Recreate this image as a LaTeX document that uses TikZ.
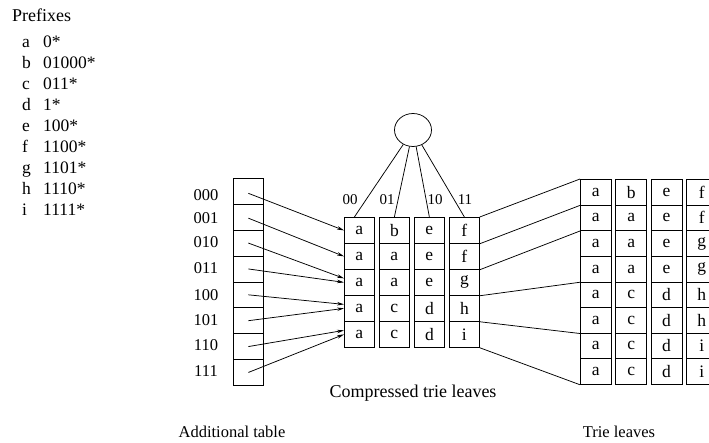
\documentclass[tikz,border=0pt]{standalone}
\usepackage{fontspec}
\setmainfont{Liberation Serif}
\usetikzlibrary{arrows.meta,shapes.geometric}
\begin{document}
\begin{tikzpicture}[x=1pt,y=-1pt,
  txt/.style={font=\fontsize{16.5}{18}\selectfont, inner sep=0pt},
  big/.style={font=\fontsize{18}{20}\selectfont, inner sep=0pt},
  plist/.style={font=\fontsize{17.5}{19}\selectfont, inner sep=0pt},
  small/.style={font=\fontsize{15}{16}\selectfont, inner sep=0pt},
  ccell/.style={draw, line width=0.75pt, minimum width=30pt, minimum height=26pt, inner sep=0pt, anchor=north west, font=\fontsize{17.5}{18}\selectfont},
  lcell/.style={draw, line width=0.75pt, minimum width=31pt, minimum height=25.625pt, inner sep=0pt, anchor=north west, font=\fontsize{17.5}{18}\selectfont},
  tcell/.style={draw, line width=0.75pt, minimum width=30pt, minimum height=25.875pt, inner sep=0pt, anchor=north west},
  link/.style={line width=0.75pt},
  arr/.style={line width=0.75pt, -{Stealth[length=7pt,width=3.5pt]}}]
\useasboundingbox (0,0) rectangle (709,442);

% Prefix list
\node[big, anchor=west] (ptitle) at (12,15) {Prefixes};
\foreach \l/\p [count=\i] in {a/0*, b/01000*, c/011*, d/1*, e/100*, f/1100*, g/1101*, h/1110*, i/1111*}{
  \node[plist, anchor=base west] (pl\i) at (22,{42+21*(\i-1)+5}) {\l};
  \node[plist, anchor=base west] (pp\i) at (43,{42+21*(\i-1)+5}) {\p};
}

% Additional table
\foreach \i in {1,...,8}{
  \node[tcell] (t\i) at (233,{178+25.875*(\i-1)}) {};
}
\foreach \lab/\yy [count=\i] in {000/195,001/218,010/242,011/268,100/295,101/320,110/345,111/371}{
  \node[txt] (rl\i) at (206,\yy) {\lab};
}

% Compressed trie leaves
\foreach \col/\letters in {1/{a,a,a,a,a},2/{b,a,a,c,c},3/{e,e,e,d,d},4/{f,f,g,h,i}}{
  \foreach \ch [count=\r] in \letters{
    \node[ccell] (c\col\r) at ({344+35*(\col-1)},{217+26*(\r-1)}) {\ch};
  }
}

% Trie leaves
\foreach \col/\letters in {1/{a,a,a,a,a,a,a,a},2/{b,a,a,a,c,c,c,c},3/{e,e,e,e,d,d,d,d},4/{f,f,g,g,h,h,i,i}}{
  \foreach \ch [count=\r] in \letters{
    \node[lcell] (l\col\r) at ({580+35.3*(\col-1)},{179+25.625*(\r-1)}) {\ch};
  }
}

% Root
\node[draw, ellipse, line width=0.75pt, minimum width=37pt, minimum height=33pt, inner sep=0pt] (root) at (413,130) {};
\coordinate (k1) at ([xshift=-5pt]c11.north);
\coordinate (k2) at (c21.north);
\coordinate (k3) at (c31.north);
\coordinate (k4) at (c41.north);
\foreach \k in {1,...,4}{ \draw[link] (root) -- (k\k); }
\node[small] (b00) at (350,200) {00};
\node[small] (b01) at (387,200) {01};
\node[small] (b10) at (435,200) {10};
\node[small] (b11) at (465,200) {11};

% Arrows from additional table
\draw[arr] ([yshift=-2pt]t1.center) -- (c11.west);
\draw[arr] ([yshift=-1pt]t2.center) -- (c12.west);
\draw[arr] (t3.center) -- ([yshift=4pt]c13.west);
\draw[arr] (t4.center) -- (c13.west);
\draw[arr] (t5.center) -- ([yshift=4pt]c14.west);
\draw[arr] (t6.center) -- (c14.west);
\draw[arr] (t7.center) -- ([yshift=4pt]c15.west);
\draw[arr] (t8.center) -- (c15.west);

% Lines to trie leaves
\draw[link] (c41.north east) -- (l11.north west);
\draw[link] (c41.south east) -- (l11.south west);
\draw[link] (c42.south east) -- (l12.south west);
\draw[link] (c43.south east) -- (l14.south west);
\draw[link] (c44.south east) -- (l16.south west);
\draw[link] (c45.south east) -- (l18.south west);

% Captions
\node[big] (cap1) at (413,393) {Compressed trie leaves};
\node[txt] (cap2) at (232,432) {Additional table};
\node[txt] (cap3) at (619,432) {Trie leaves};
\end{tikzpicture}
\end{document}
